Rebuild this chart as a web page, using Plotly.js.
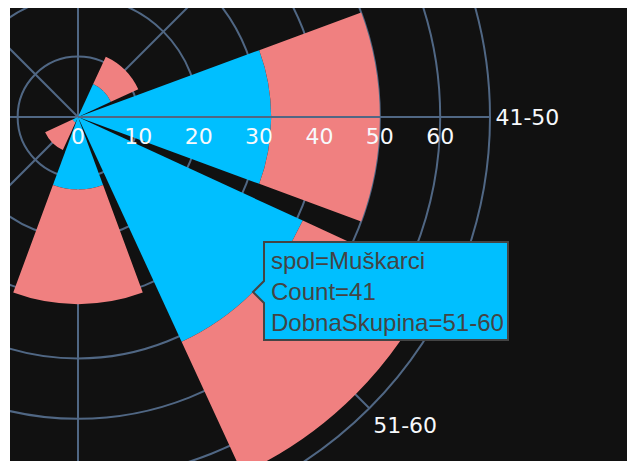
<!DOCTYPE html>
<html><head><meta charset="utf-8">
<script src="https://cdn.plot.ly/plotly-3.0.1.min.js"></script>
<style>
html,body{margin:0;padding:0;background:#ffffff;}
#frame{position:absolute;left:10px;top:8px;width:617px;height:453px;overflow:hidden;background:#111111;}
#chart{position:absolute;left:-532px;top:-491px;width:1200px;height:1200px;}
</style></head><body>
<div id="frame"><div id="chart"></div></div>
<script>
// ---- data ----
const ageGroups = ["21-30", "31-40", "41-50", "51-60", "61-70", "71-80", "81-90", "91-100"];
const menGroups = ["31-40", "41-50", "51-60", "61-70", "71-80"];
const menCounts = [6, 32, 41, 12, 1];
const womenGroups = ["31-40", "41-50", "51-60", "61-70", "71-80"];
const womenCounts = [5, 18, 24, 19, 5];
const seriesNames = ["Muškarci", "Žene"];
const hoverGroup = "51-60";

// ---- geometry / style ----
const SIZE = 1200, R = 412;
const totals = ageGroups.map(g => {
  const a = menGroups.indexOf(g), b = womenGroups.indexOf(g);
  return (a >= 0 ? menCounts[a] : 0) + (b >= 0 ? womenCounts[b] : 0);
});
const rmax = Math.max(...totals) * 1.05;

const traces = [
  {type: 'barpolar', name: seriesNames[0], r: menCounts, theta: menGroups,
   marker: {color: '#00BFFF', line: {width: 0}}, hoverinfo: 'skip'},
  {type: 'barpolar', name: seriesNames[1], r: womenCounts, theta: womenGroups,
   marker: {color: '#F08080', line: {width: 0}}, hoverinfo: 'skip'}
];

// tooltip anchored at the end of the hovered bar
const hi = menGroups.indexOf(hoverGroup);
const hv = menCounts[hi];
const ang = (90 - ageGroups.indexOf(hoverGroup) * 360 / ageGroups.length) * Math.PI / 180;
const rp = hv / rmax * R;
const tipX = SIZE / 2 + rp * Math.cos(ang), tipY = SIZE / 2 - rp * Math.sin(ang);
const arrow = 11, boxW = 244, boxH = 98;
const bl = tipX + arrow, bt = tipY - boxH / 2 - 1, bb = bt + boxH, br = bl + boxW;
const px = x => (x / SIZE).toFixed(5), py = y => (1 - y / SIZE).toFixed(5);
const path = `M${px(tipX)},${py(tipY)} L${px(bl)},${py(tipY - arrow)} L${px(bl)},${py(bt)} L${px(br)},${py(bt)} L${px(br)},${py(bb)} L${px(bl)},${py(bb)} L${px(bl)},${py(tipY + arrow)} Z`;

const gridC = '#506784';
const layout = {
  width: SIZE, height: SIZE,
  margin: {l: 0, r: 0, t: 0, b: 0},
  paper_bgcolor: '#111111', plot_bgcolor: '#111111',
  font: {family: 'Verdana, "DejaVu Sans", sans-serif', size: 22, color: '#f2f5fa'},
  showlegend: false,
  polar: {
    domain: {x: [0.5 - R / SIZE, 0.5 + R / SIZE], y: [0.5 - R / SIZE, 0.5 + R / SIZE]},
    bgcolor: '#111111',
    barmode: 'stack',
    bargap: 0.1,
    angularaxis: {type: 'category', categoryorder: 'array', categoryarray: ageGroups,
      rotation: 90, direction: 'clockwise', gridcolor: gridC, gridwidth: 2,
      linecolor: gridC, linewidth: 2, showline: true, ticks: '',
      tickfont: {size: 22, color: '#f7f9fc'}},
    radialaxis: {range: [0, rmax], angle: 0, tick0: 0, dtick: 10,
      gridcolor: gridC, gridwidth: 2, linecolor: gridC, linewidth: 2, showline: true,
      ticks: '', tickfont: {size: 22, color: '#f7f9fc'}}
  },
  shapes: [{type: 'path', xref: 'paper', yref: 'paper', path: path,
    fillcolor: '#00BFFF', line: {color: '#444444', width: 2}, layer: 'above'}],
  annotations: [{xref: 'paper', yref: 'paper', x: (bl + 5) / SIZE, y: 1 - (bt + boxH / 2) / SIZE,
    xanchor: 'left', yanchor: 'middle', align: 'left', showarrow: false,
    text: `spol=${seriesNames[0]}<br>Count=${hv}<br>DobnaSkupina=${hoverGroup}`,
    font: {family: 'Arial, "Liberation Sans", sans-serif', size: 24, color: '#444444'}}]
};

Plotly.newPlot('chart', traces, layout, {displayModeBar: false, staticPlot: true});
</script>
</body></html>
